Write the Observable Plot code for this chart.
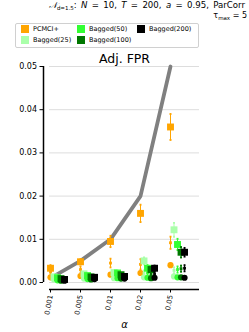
<!DOCTYPE html>
<html>
<head>
<meta charset="utf-8">
<script src="https://cdn.jsdelivr.net/npm/d3@7"></script>
<script src="https://cdn.jsdelivr.net/npm/@observablehq/plot@0.6"></script>
<style>
  body { margin: 0; background: #fff; }
  #wrap { position: relative; width: 249px; height: 332px; overflow: hidden; font-family: "DejaVu Sans", sans-serif; }
  #wrap svg { position: absolute; left: 0; top: 0; }
  .top1 { position: absolute; right: 4px; top: 0px; font-size: 8.6px; line-height: 10px; white-space: nowrap; word-spacing: 1.6px; }
  .top2 { position: absolute; right: 2px; top: 11px; font-size: 8px; line-height: 10px; white-space: nowrap; }
  sub { font-size: 5.5px; vertical-align: -2px; line-height: 0; word-spacing: 0; }
  #legend { position: absolute; left: 15px; top: 23px; width: 182px; height: 23px; border: 1px solid #d0d0d0; border-radius: 2px; background: #fff; font-size: 6.5px; }
  .item { position: absolute; height: 9px; line-height: 9px; white-space: nowrap; }
  .sw { display: inline-block; width: 8px; height: 8px; vertical-align: middle; margin-right: 4px; }
</style>
</head>
<body>
<div id="wrap"></div>
<script>
const alphaLabels = ["0.001", "0.005", "0.01", "0.02", "0.05"];
const alphaValues = [0.001, 0.005, 0.01, 0.02, 0.05];
const methods = ["PCMCI+", "Bagged(25)", "Bagged(50)", "Bagged(100)", "Bagged(200)"];
const methodColors = ["#ffa500", "#aaffaa", "#33ff33", "#007700", "#000000"];
const yTicks = [0, 0.01, 0.02, 0.03, 0.04, 0.05];

// per method (rows) and alpha (columns)
const squareMean = [
  [0.0033, 0.0048, 0.0095, 0.0160, 0.0360],
  [0.0013, 0.0020, 0.0023, 0.0050, 0.0122],
  [0.0011, 0.0016, 0.0022, 0.0033, 0.0088],
  [0.0009, 0.0013, 0.0018, 0.0030, 0.0070],
  [0.0007, 0.0012, 0.0014, 0.0033, 0.0070]
];
const squareErr = [
  [0.0007, 0.0006, 0.0013, 0.0020, 0.0030],
  [0.0004, 0.0004, 0.0005, 0.0008, 0.0016],
  [0.0003, 0.0004, 0.0005, 0.0007, 0.0013],
  [0.0003, 0.0003, 0.0004, 0.0006, 0.0012],
  [0.0003, 0.0003, 0.0004, 0.0006, 0.0010]
];
const midMean = [
  [0.0025, 0.0030, 0.0045, 0.0042, 0.0092],
  [0.0009, 0.0014, 0.0016, 0.0022, 0.0028],
  [0.0008, 0.0012, 0.0015, 0.0022, 0.0030],
  [0.0007, 0.0010, 0.0013, 0.0020, 0.0032],
  [0.0006, 0.0010, 0.0012, 0.0020, 0.0033]
];
const midErr = [
  [0.0005, 0.0007, 0.0010, 0.0012, 0.0014],
  [0.0003, 0.0004, 0.0004, 0.0006, 0.0007],
  [0.0003, 0.0003, 0.0004, 0.0006, 0.0007],
  [0.0003, 0.0003, 0.0004, 0.0005, 0.0007],
  [0.0003, 0.0003, 0.0004, 0.0005, 0.0007]
];
const circleMean = [
  [0.0012, 0.0015, 0.0018, 0.0022, 0.0040],
  [0.0007, 0.0009, 0.0010, 0.0012, 0.0014],
  [0.0005, 0.0008, 0.0010, 0.0011, 0.0012],
  [0.0004, 0.0007, 0.0009, 0.0010, 0.0012],
  [0.0004, 0.0008, 0.0009, 0.0011, 0.0011]
];
const circleErr = [
  [0.0003, 0.0003, 0.0003, 0.0004, 0.0004],
  [0.0002, 0.0002, 0.0002, 0.0003, 0.0003],
  [0.0002, 0.0002, 0.0002, 0.0003, 0.0003],
  [0.0002, 0.0002, 0.0002, 0.0002, 0.0003],
  [0.0002, 0.0002, 0.0002, 0.0002, 0.0003]
];

const dodge = 0.117;
const xMin = -1 / 30, xMax = 5 - 1 / 30;

const diag = alphaValues.map((v, i) => ({i, v}));

function rowsFor(m, mean, err) {
  return alphaValues.map((a, i) => ({
    x: i + m * dodge, y: mean[m][i], y1: mean[m][i] - err[m][i], y2: mean[m][i] + err[m][i]
  }));
}

const marks = [
  Plot.ruleY(yTicks, {stroke: "#dddddd", strokeWidth: 1}),
  Plot.line(diag, {x: "i", y: "v", stroke: "#808080", strokeWidth: 3.8, strokeLinejoin: "round", strokeLinecap: "round"})
];

methods.forEach((name, m) => {
  const c = methodColors[m];
  const groups = [
    [rowsFor(m, squareMean, squareErr), "square", 3.9],
    [rowsFor(m, midMean, midErr), "square", 1.6],
    [rowsFor(m, circleMean, circleErr), "circle", 3.1]
  ];
  for (const [rows, sym, r] of groups) {
    marks.push(
      Plot.ruleX(rows, {x: "x", y1: "y1", y2: "y2", stroke: c, strokeWidth: 1}),
      Plot.dot(rows, {x: "x", y: "y1", symbol: "square", r: 1.1, fill: c, stroke: null}),
      Plot.dot(rows, {x: "x", y: "y2", symbol: "square", r: 1.1, fill: c, stroke: null}),
      Plot.dot(rows, {x: "x", y: "y", symbol: sym, r, fill: c, stroke: null})
    );
  }
});

marks.push(
  Plot.ruleX([xMin], {y1: 0, y2: 0.05, dx: -6, stroke: "black", strokeWidth: 1.5}),
  Plot.ruleY([0], {x1: xMin, x2: xMax, dy: 7, stroke: "black", strokeWidth: 1.5}),
  Plot.axisY({ticks: yTicks, tickFormat: d3.format(".2f"), dx: -6, tickSize: 3.5, tickPadding: 3, fontSize: 8, label: null, stroke: "black"}),
  Plot.axisX({ticks: [0, 1, 2, 3, 4], tickFormat: i => alphaLabels[i], tickRotate: -80, dy: 7, tickSize: 3.5, tickPadding: 2, fontSize: 7, label: null}),
  Plot.text(["Adj. FPR"], {frameAnchor: "top", dy: -12, fontSize: 12.5, fill: "black"}),
  Plot.text(["α"], {frameAnchor: "bottom", dy: 45, fontSize: 10, fontStyle: "italic", fill: "black"})
);

const chart = Plot.plot({
  width: 249,
  height: 332,
  marginLeft: 49,
  marginRight: 50,
  marginTop: 66,
  marginBottom: 50,
  style: {fontFamily: "DejaVu Sans", background: "white", overflow: "visible"},
  x: {type: "linear", domain: [xMin, xMax], axis: null},
  y: {domain: [0, 0.05], axis: null},
  marks
});

const wrap = document.getElementById("wrap");
wrap.appendChild(chart);

const t1 = document.createElement("div");
t1.className = "top1";
t1.innerHTML = '<span style="font-family:\'DejaVu Serif\',serif;font-style:italic">𝒩</span><sub>d=1.5</sub>: <i>N</i> = 10, <i>T</i> = 200, <i>a</i> = 0.95, ParCorr';
wrap.appendChild(t1);
const t2 = document.createElement("div");
t2.className = "top2";
t2.innerHTML = 'τ<sub>max</sub> = 5';
wrap.appendChild(t2);

const legend = document.createElement("div");
legend.id = "legend";
const pos = [[5, 1], [5, 12], [61, 1], [61, 12], [121, 1]];
methods.forEach((name, m) => {
  const it = document.createElement("div");
  it.className = "item";
  it.style.left = pos[m][0] + "px";
  it.style.top = pos[m][1] + "px";
  it.innerHTML = '<span class="sw" style="background:' + methodColors[m] + '"></span>' + name;
  legend.appendChild(it);
});
wrap.appendChild(legend);
</script>
</body>
</html>
